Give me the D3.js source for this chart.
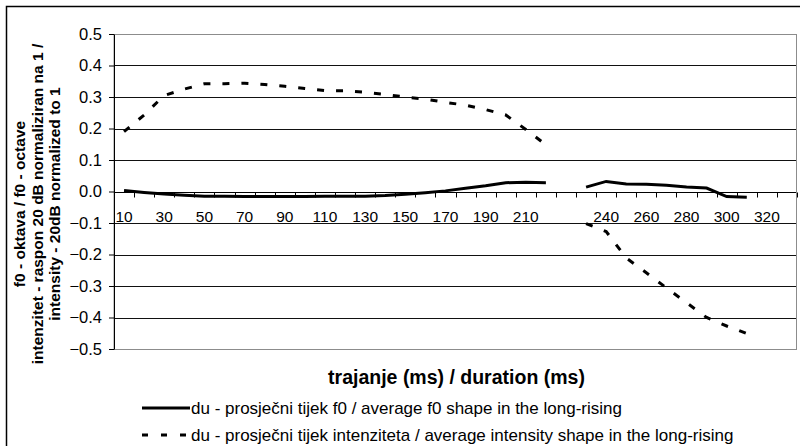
<!DOCTYPE html>
<html>
<head>
<meta charset="utf-8">
<script src="https://cdn.jsdelivr.net/npm/d3@7"></script>
<style>
  body { margin: 0; background: #fff; }
  svg { display: block; font-family: Arial, "Liberation Sans", sans-serif; }
</style>
</head>
<body>
<div id="chart"></div>
<script>
// Categories (ms); one blank category separates the two parts
const categories = ["10","20","30","40","50","60","70","80","90","100","110","120","130","140","150",
  "160","170","180","190","200","210","220","","230","240","250","260","270","280","290","300","310","320","330"];

// du - average f0 shape (octave)
const f0Values = [0.003, -0.003, -0.008, -0.012, -0.015, -0.015, -0.016, -0.016, -0.016, -0.016,
  -0.015, -0.015, -0.015, -0.013, -0.009, -0.004, 0.002, 0.010, 0.018, 0.028, 0.029, 0.028,
  null, 0.014, 0.032, 0.024, 0.023, 0.020, 0.014, 0.011, -0.016, -0.018, null, null];

// du - average intensity shape (normalized)
const intensityValues = [0.19, 0.243, 0.305, 0.325, 0.342, 0.342, 0.344, 0.340, 0.334, 0.327,
  0.320, 0.320, 0.315, 0.308, 0.300, 0.293, 0.283, 0.274, 0.260, 0.243, 0.197, 0.148,
  null, -0.102, -0.127, -0.211, -0.258, -0.306, -0.353, -0.400, -0.427, -0.451, null, null];

const yTicks = [0.5, 0.4, 0.3, 0.2, 0.1, 0, -0.1, -0.2, -0.3, -0.4, -0.5];

const seriesNames = [
  "du - prosječni tijek f0 / average f0 shape in the long-rising",
  "du - prosječni tijek intenziteta / average intensity shape in the long-rising"
];

const W = 800, H = 446;
const margin = { top: 34, right: 3, bottom: 97, left: 114 };
const plotW = W - margin.left - margin.right,
      plotH = H - margin.top - margin.bottom;

const svg = d3.select("#chart").append("svg")
  .attr("width", W)
  .attr("height", H);

// outer chart border (runs off the right and bottom edge)
svg.append("rect")
  .attr("x", 6.5).attr("y", 6.5)
  .attr("width", 820).attr("height", 480)
  .attr("fill", "none")
  .attr("stroke", "#000")
  .attr("stroke-width", 1.5);

const g = svg.append("g")
  .attr("transform", `translate(${margin.left},${margin.top})`);

const x = d3.scaleBand()
  .domain(d3.range(categories.length))
  .range([0, plotW]);

const y = d3.scaleLinear()
  .domain([-0.5, 0.5])
  .range([plotH, 0]);

// plot area border
g.append("rect")
  .attr("x", 0).attr("y", 0.5)
  .attr("width", plotW - 0.5).attr("height", plotH)
  .attr("fill", "none")
  .attr("stroke", "#8c8c8c")
  .attr("stroke-width", 1);

// gridlines
g.selectAll(".grid")
  .data(yTicks.filter(d => d !== 0.5 && d !== -0.5 && d !== 0))
  .enter().append("line")
  .attr("x1", 0).attr("x2", plotW - 1)
  .attr("y1", d => Math.round(y(d)) + 0.5)
  .attr("y2", d => Math.round(y(d)) + 0.5)
  .attr("stroke", "#111")
  .attr("stroke-width", 1);

// y axis
const yAxis = g.append("g")
  .call(d3.axisLeft(y).tickValues(yTicks).tickFormat(d3.format(".1f")).tickSize(5).tickSizeOuter(0));
yAxis.select(".domain").attr("stroke", "#000");
yAxis.selectAll(".tick line").attr("stroke", "#000");
yAxis.selectAll("text")
  .attr("x", -12)
  .style("font-size", "16.5px")
  .style("font-family", "Arial, 'Liberation Sans', sans-serif")
  .attr("fill", "#000");

// x axis at y = 0
const xAxis = g.append("g")
  .attr("transform", `translate(0,${Math.round(y(0)) + 0.5})`);

xAxis.append("line")
  .attr("x1", 0).attr("x2", plotW - 1)
  .attr("stroke", "#000");

xAxis.selectAll(".xtick")
  .data(d3.range(categories.length + 1))
  .enter().append("line")
  .attr("x1", i => Math.round(i * x.step()) + 0.5)
  .attr("x2", i => Math.round(i * x.step()) + 0.5)
  .attr("y1", 0).attr("y2", 5)
  .attr("stroke", "#000");

xAxis.selectAll(".xlabel")
  .data(d3.range(0, categories.length, 2))
  .enter().append("text")
  .attr("x", i => x(i) + x.bandwidth() / 2)
  .attr("y", 29)
  .attr("text-anchor", "middle")
  .style("font-size", "15.5px")
  .text(i => categories[i]);

// lines
const line = d3.line()
  .defined(d => d.v !== null)
  .x(d => x(d.i) + x.bandwidth() / 2)
  .y(d => y(d.v));

g.append("path")
  .datum(f0Values.map((v, i) => ({ i, v })))
  .attr("d", line)
  .attr("fill", "none")
  .attr("stroke", "#000")
  .attr("stroke-width", 3);

g.append("path")
  .datum(intensityValues.map((v, i) => ({ i, v })))
  .attr("d", line)
  .attr("fill", "none")
  .attr("stroke", "#000")
  .attr("stroke-width", 3)
  .attr("stroke-dasharray", "7,12");

// axis titles
svg.append("text")
  .attr("x", margin.left + plotW / 2 + 1)
  .attr("y", 384)
  .attr("text-anchor", "middle")
  .style("font-size", "19.5px")
  .style("font-weight", "bold")
  .text("trajanje (ms) / duration (ms)");

const yTitle = svg.append("text")
  .attr("transform", "translate(25,204) rotate(-90)")
  .attr("text-anchor", "middle")
  .style("font-size", "15.5px")
  .style("font-weight", "bold");
["f0 - oktava / f0 - octave",
 "intenzitet - raspon 20 dB normaliziran na 1 /",
 "intensity - 20dB normalized to 1"].forEach((t, k) => {
  yTitle.append("tspan").attr("x", 0).attr("y", k * 17.5).text(t);
});

// legend
const legend = svg.selectAll(".legend")
  .data(seriesNames)
  .enter().append("g")
  .attr("transform", (d, i) => `translate(142,${408 + i * 27})`);

legend.append("line")
  .attr("x1", 0).attr("x2", 48)
  .attr("stroke", "#000")
  .attr("stroke-width", 3)
  .attr("stroke-dasharray", (d, i) => i === 1 ? "6,13" : null);

legend.append("text")
  .attr("x", 49)
  .attr("dy", "0.35em")
  .style("font-size", "17px")
  .text(d => d);
</script>
</body>
</html>
